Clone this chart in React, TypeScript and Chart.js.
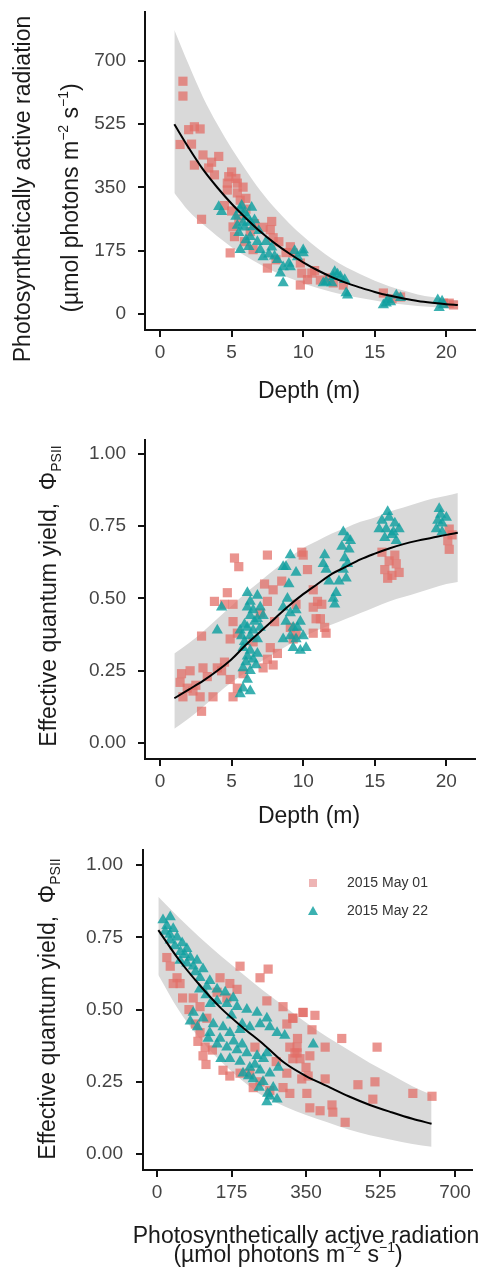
import React, { useEffect, useRef } from "react";
import { Chart, registerables } from "chart.js";

Chart.register(...registerables);

const FONT = '"Liberation Sans", Arial, Helvetica, sans-serif';
const RED = "rgba(226,110,104,0.74)";
const TEAL = "rgba(16,160,160,0.82)";
const BAND = "#d9d9d9";
const LEGEND_LABELS = ["2015 May 01", "2015 May 22"];

// ---------- Panel 1: PAR vs depth ----------
const p1FitDepth = [1, 2, 3, 4, 5, 6, 7, 8, 9, 10, 11, 12, 13, 14, 15, 16, 17, 18, 19, 20, 20.8];
const p1Fit = [525, 460, 400, 350, 305, 265, 228, 196, 168, 143, 121, 102, 86, 73, 61, 51, 43, 36, 31, 27, 25];
const p1Upper = [786, 690, 600, 525, 458, 398, 342, 294, 252, 215, 182, 153, 129, 110, 92, 77, 65, 54, 47, 41, 38];
const p1Lower = [335, 285, 248, 215, 185, 160, 137, 117, 100, 85, 72, 61, 52, 44, 37, 31, 26, 22, 19, 16, 15];
const p1RedDepth = [
  1.6, 1.6, 2.0, 2.4, 2.8, 1.4, 3.0, 4.1, 2.4, 3.4,
  3.8, 5.0, 4.7, 5.4, 5.8, 5.4, 5.6, 4.7, 2.9, 5.1,
  5.2, 4.9, 7.8, 7.7, 7.9, 6.5, 7.5, 9.1, 9.3, 9.8,
  9.9, 9.8, 10.6, 11.2, 12.1, 15.6, 16.8, 19.8, 20.5,
  4.5, 6.0, 5.0, 6.3, 8.1, 10.3, 12.8, 16.2, 20.2, 5.9,
  4.8, 5.3, 3.6, 2.2, 6.0, 6.6, 7.2, 8.3, 8.8, 10.8, 11.8, 5.5,
];
const p1RedPar = [
  644, 603, 510, 518, 512, 469, 440, 436, 412, 404,
  385, 393, 362, 362, 351, 335, 315, 343, 262, 241,
  214, 169, 256, 233, 211, 178, 127, 186, 169, 80,
  113, 141, 113, 94, 86, 58, 47, 30, 25,
  300, 320, 285, 228, 150, 95, 80, 42, 30, 200,
  380, 375, 420, 470, 290, 250, 240, 200, 170, 120, 100, 265,
];
const p1TealDepth = [
  4.3, 4.1, 5.6, 6.1, 6.3, 6.5, 5.8, 5.5, 6.3, 6.0,
  5.6, 6.2, 7.0, 7.2, 8.2, 8.6, 8.4, 8.6, 9.1, 9.6,
  10.0, 10.0, 12.2, 12.6, 12.0, 13.1, 11.6, 16.5, 15.6, 16.1,
  19.4, 19.5, 19.8, 13.0, 11.4, 12.1, 6.8, 7.6, 5.9, 15.9,
  5.3, 5.9, 6.6, 6.9, 5.4, 7.4, 7.8, 8.0, 9.0, 9.4,
  12.4, 12.9, 16.8, 19.7, 15.8, 6.4, 5.7,
];
const p1TealPar = [
  283, 297, 289, 269, 253, 241, 253, 225, 214, 205,
  178, 186, 178, 158, 150, 130, 113, 86, 130, 158,
  169, 177, 117, 103, 86, 52, 89, 52, 25, 33,
  39, 17, 25, 58, 86, 103, 200, 165, 240, 40,
  270, 280, 260, 230, 245, 200, 185, 160, 140, 175,
  110, 95, 45, 35, 30, 295, 300,
];
const p1XTicks = [0, 5, 10, 15, 20];
const p1YTicks = [0, 175, 350, 525, 700];

// ---------- Panel 2: yield vs depth ----------
const p2FitDepth = [1, 2, 3, 4, 5, 6, 7, 8, 9, 10, 11, 12, 13, 14, 15, 16, 17, 18, 19, 20, 20.8];
const p2Fit = [0.155, 0.185, 0.215, 0.25, 0.29, 0.34, 0.385, 0.43, 0.475, 0.515, 0.55, 0.585, 0.61, 0.635, 0.655, 0.673, 0.688, 0.7, 0.71, 0.72, 0.727];
const p2Upper = [0.31, 0.345, 0.385, 0.43, 0.475, 0.52, 0.56, 0.6, 0.64, 0.675, 0.7, 0.725, 0.745, 0.765, 0.78, 0.8, 0.815, 0.83, 0.845, 0.855, 0.865];
const p2Lower = [0.05, 0.085, 0.125, 0.17, 0.21, 0.245, 0.28, 0.31, 0.34, 0.367, 0.39, 0.41, 0.43, 0.45, 0.47, 0.49, 0.505, 0.52, 0.535, 0.55, 0.557];
const p2RedDepth = [
  5.2, 5.5, 7.5, 9.9, 4.7, 5.1, 4.5, 3.8, 7.3, 7.9,
  7.5, 8.5, 9.5, 5.1, 5.4, 4.9, 2.9, 7.7, 8.2, 7.5,
  7.9, 7.2, 9.3, 9.5, 9.1, 1.5, 2.1, 1.4, 1.9, 2.3,
  2.8, 3.0, 1.6, 2.9, 3.7, 4.3, 4.9, 5.4, 5.8, 5.1,
  4.5, 10.7, 10.9, 10.7, 10.0, 11.0, 11.2, 10.7, 11.5, 11.6,
  15.5, 16.0, 16.5, 15.7, 16.2, 16.7, 15.9, 20.2, 20.1, 20.2,
  7.0, 8.0, 6.5, 4.0, 3.3, 2.5, 10.3, 16.4, 20.4, 11.3,
];
const p2RedYield = [
  0.64, 0.61, 0.65, 0.66, 0.52, 0.48, 0.48, 0.49, 0.55, 0.53,
  0.49, 0.56, 0.48, 0.42, 0.38, 0.36, 0.37, 0.33, 0.31, 0.29,
  0.27, 0.26, 0.36, 0.38, 0.40, 0.24, 0.25, 0.21, 0.19, 0.18,
  0.16, 0.26, 0.16, 0.11, 0.16, 0.25, 0.22, 0.19, 0.24, 0.16,
  0.28, 0.47, 0.43, 0.38, 0.65, 0.49, 0.43, 0.53, 0.40, 0.38,
  0.66, 0.63, 0.62, 0.60, 0.58, 0.59, 0.57, 0.74, 0.70, 0.67,
  0.45, 0.42, 0.35, 0.26, 0.23, 0.20, 0.60, 0.65, 0.72, 0.48,
];
const p2TealDepth = [
  9.1, 8.8, 9.5, 8.6, 4.3, 4.0, 5.6, 5.7,
  6.1, 6.3, 6.8, 6.1, 6.5, 7.0, 6.3, 6.8, 6.1, 6.5,
  7.0, 6.3, 6.8, 5.8, 6.3, 6.8, 6.1, 6.5, 5.8, 6.3,
  6.1, 5.8, 6.3, 5.6,
  8.6, 9.1, 9.5, 8.8, 9.3, 9.8, 9.1, 9.5, 10.0, 9.3, 9.8, 10.2, 8.6,
  11.5, 11.4, 11.6, 11.8, 12.1, 12.2,
  12.8, 13.1, 12.7, 13.2, 12.9, 13.1, 12.8, 13.0, 12.5,
  15.9, 15.5, 16.4, 15.8, 15.3, 16.7, 16.2, 15.7, 16.5,
  19.5, 19.4, 19.7, 19.3, 19.7, 20.0,
  5.9, 6.6, 7.2, 6.0, 5.9, 6.7, 9.0, 8.9, 9.6, 13.3, 16.0, 19.6, 16.3, 12.3,
];
const p2TealYield = [
  0.65, 0.61, 0.59, 0.61, 0.47, 0.39, 0.39, 0.37,
  0.52, 0.49, 0.51, 0.47, 0.46, 0.47, 0.44, 0.43, 0.40, 0.39,
  0.40, 0.37, 0.36, 0.33, 0.32, 0.31, 0.30, 0.29, 0.26, 0.25,
  0.22, 0.19, 0.18, 0.17,
  0.47, 0.45, 0.46, 0.42, 0.40, 0.42, 0.37, 0.36, 0.37, 0.33, 0.32, 0.33, 0.36,
  0.65, 0.62, 0.60, 0.56, 0.50, 0.48,
  0.73, 0.71, 0.68, 0.67, 0.64, 0.62, 0.60, 0.57, 0.56,
  0.80, 0.77, 0.76, 0.74, 0.74, 0.74, 0.72, 0.71, 0.70,
  0.81, 0.77, 0.76, 0.74, 0.73, 0.78,
  0.35, 0.42, 0.44, 0.28, 0.41, 0.27, 0.55, 0.50, 0.40, 0.70, 0.78, 0.79, 0.73, 0.52,
];
const p2XTicks = [0, 5, 10, 15, 20];
const yieldTicks = [0, 0.25, 0.5, 0.75, 1.0];

// ---------- Panel 3: yield vs PAR ----------
const p3FitPar = [3, 50, 100, 150, 200, 250, 300, 350, 400, 450, 500, 550, 600, 645];
const p3Fit = [0.775, 0.675, 0.585, 0.505, 0.44, 0.38, 0.315, 0.27, 0.235, 0.2, 0.17, 0.145, 0.122, 0.105];
const p3Upper = [0.89, 0.82, 0.75, 0.685, 0.625, 0.565, 0.51, 0.455, 0.405, 0.36, 0.315, 0.275, 0.235, 0.205];
const p3Lower = [0.62, 0.5, 0.4, 0.32, 0.255, 0.2, 0.165, 0.135, 0.11, 0.085, 0.065, 0.05, 0.035, 0.025];
const p3TealPar = [
  14, 31, 23, 38, 19, 47, 31, 59, 42, 70,
  78, 94, 85, 108, 101, 124, 117, 141, 70, 54,
  141, 164, 188, 211, 235, 258, 179,
  85, 78, 108, 132, 155, 124, 148, 171, 195, 218, 242, 265, 282,
  141, 164, 188, 211, 235, 258, 171, 195, 218, 242, 265, 202, 226, 249, 273, 265, 282, 258,
  367,
  30, 55, 65, 90, 100, 115, 125, 160, 175, 200, 150, 180, 230, 250, 285, 260, 240, 120, 95, 200, 215, 300,
];
const p3TealYield = [
  0.81, 0.82, 0.79, 0.78, 0.77, 0.75, 0.74, 0.73, 0.72, 0.71,
  0.68, 0.67, 0.65, 0.64, 0.61, 0.60, 0.58, 0.57, 0.66, 0.67,
  0.53, 0.52, 0.51, 0.50, 0.49, 0.47, 0.54,
  0.49, 0.46, 0.47, 0.45, 0.44, 0.42, 0.40, 0.42, 0.43, 0.44, 0.45, 0.44, 0.42,
  0.38, 0.37, 0.36, 0.35, 0.34, 0.35, 0.33, 0.32, 0.30, 0.29, 0.28, 0.28, 0.26, 0.25, 0.23, 0.20, 0.19, 0.18,
  0.38,
  0.76, 0.70, 0.69, 0.63, 0.57, 0.55, 0.52, 0.56, 0.48, 0.45, 0.33, 0.39, 0.31, 0.33, 0.30, 0.21, 0.23, 0.40, 0.44, 0.38, 0.27, 0.41,
];
const p3RedPar = [
  23, 47, 54, 38, 31,
  195, 242, 261,
  148, 171, 188, 164, 141,
  85, 101, 117,
  258, 296, 319, 343, 305,
  96, 113, 108, 101,
  155, 171, 195,
  218, 242, 226,
  312, 329, 319,
  296, 312,
  343, 371, 319, 364, 434, 517, 395,
  329, 324, 359, 336,
  355, 395, 352, 472, 512, 507, 601, 646,
  359, 383, 411, 413, 442,
  60, 75, 130, 115, 90, 230, 280, 330, 350, 340, 265, 305,
];
const p3RedYield = [
  0.68, 0.61, 0.59, 0.59, 0.65,
  0.65, 0.61, 0.64,
  0.61, 0.59, 0.57, 0.54, 0.56,
  0.54, 0.51, 0.47,
  0.53, 0.51, 0.47, 0.49, 0.45,
  0.39, 0.37, 0.34, 0.42,
  0.29, 0.27, 0.28,
  0.28, 0.25, 0.23,
  0.37, 0.35, 0.33,
  0.23, 0.21,
  0.49, 0.48, 0.47, 0.43, 0.40, 0.37, 0.37,
  0.37, 0.35, 0.34, 0.33,
  0.27, 0.26, 0.21, 0.24, 0.25, 0.19, 0.21, 0.20,
  0.16, 0.15, 0.17, 0.145, 0.11,
  0.54, 0.50, 0.36, 0.31, 0.45, 0.37, 0.32, 0.40, 0.30, 0.26, 0.22, 0.28,
];
const p3XTicks = [0, 175, 350, 525, 700];

// ---------- helpers ----------
const zip = (xs: number[], ys: number[]) => xs.map((x, i) => ({ x, y: ys[i] }));

type Seg = { t: string; size: number; dy?: number };

function drawRich(ctx: CanvasRenderingContext2D, segs: Seg[], cx: number, cy: number, rotate: boolean, color: string) {
  ctx.save();
  ctx.translate(cx, cy);
  if (rotate) ctx.rotate(-Math.PI / 2);
  ctx.fillStyle = color;
  ctx.textBaseline = "alphabetic";
  ctx.textAlign = "left";
  const main = Math.max(...segs.map((s) => s.size));
  const widths = segs.map((s) => {
    ctx.font = `${s.size}px ${FONT}`;
    return ctx.measureText(s.t).width;
  });
  const total = widths.reduce((a, b) => a + b, 0);
  let x = -total / 2;
  segs.forEach((s, i) => {
    ctx.font = `${s.size}px ${FONT}`;
    ctx.fillText(s.t, x, main * 0.35 + (s.dy || 0));
    x += widths[i];
  });
  ctx.restore();
}

function axis(min: number, max: number, ticks: number[], fmt: (v: number) => string, isX: boolean, size: number, pad: number) {
  return {
    type: "linear",
    min,
    max,
    afterBuildTicks: (s: any) => {
      s.ticks = ticks.map((v) => ({ value: v }));
    },
    afterFit: (s: any) => {
      if (isX) {
        s.height = size;
        s.paddingLeft = 0;
        s.paddingRight = 0;
      } else {
        s.width = size;
        s.paddingTop = 0;
        s.paddingBottom = 0;
      }
    },
    grid: { display: true, drawOnChartArea: false, drawTicks: true, tickLength: 7, color: "#111", lineWidth: 2 },
    border: { display: true, color: "#111", width: 2 },
    ticks: {
      color: "#444",
      font: { family: FONT, size: 19 },
      padding: pad,
      autoSkip: false,
      maxRotation: 0,
      callback: (v: any) => fmt(Number(v)),
    },
  };
}

function datasets(fx: number[], fit: number[], up: number[], lo: number[], rx: number[], ry: number[], tx: number[], ty: number[]) {
  return [
    { label: "fit", data: zip(fx, fit), borderColor: "#000", borderWidth: 2, pointRadius: 0, showLine: true, fill: false, cubicInterpolationMode: "monotone", order: 0 },
    { label: LEGEND_LABELS[1], data: zip(tx, ty), showLine: false, pointStyle: "triangle", pointRadius: 6.5, backgroundColor: TEAL, pointBackgroundColor: TEAL, pointBorderWidth: 0, borderWidth: 0, order: 1 },
    { label: LEGEND_LABELS[0], data: zip(rx, ry), showLine: false, pointStyle: "rect", pointRadius: 6.5, backgroundColor: RED, pointBackgroundColor: RED, pointBorderWidth: 0, borderWidth: 0, order: 2 },
    { label: "upper", data: zip(fx, up), borderWidth: 0, borderColor: "rgba(0,0,0,0)", pointRadius: 0, showLine: true, fill: "+1", backgroundColor: BAND, cubicInterpolationMode: "monotone", order: 3 },
    { label: "lower", data: zip(fx, lo), borderWidth: 0, borderColor: "rgba(0,0,0,0)", pointRadius: 0, showLine: true, fill: false, cubicInterpolationMode: "monotone", order: 4 },
  ];
}

function baseOptions(top: number, right: number, x: any, y: any) {
  return {
    responsive: false,
    maintainAspectRatio: false,
    animation: false,
    devicePixelRatio: 1,
    events: [],
    layout: { padding: { top, right, left: 0, bottom: 0 } },
    plugins: { legend: { display: false }, tooltip: { enabled: false } },
    scales: { x, y },
  };
}

const fmtInt = (v: number) => String(v);
const fmt2 = (v: number) => v.toFixed(2);

const parUnitSegs: Seg[] = [
  { t: "(µmol photons m", size: 23 },
  { t: "−2", size: 14, dy: -10 },
  { t: " s", size: 23 },
  { t: "−1", size: 14, dy: -10 },
  { t: ")", size: 23 },
];

function config1() {
  return {
    type: "line",
    data: { datasets: datasets(p1FitDepth, p1Fit, p1Upper, p1Lower, p1RedDepth, p1RedPar, p1TealDepth, p1TealPar) },
    options: baseOptions(12, 8, axis(-1.05, 22.0, p1XTicks, fmtInt, true, 90, 4), axis(-44.3, 835.6, p1YTicks, fmtInt, false, 145, 12)),
    plugins: [
      {
        id: "titles1",
        afterDraw(chart: any) {
          const ctx = chart.ctx;
          drawRich(ctx, [{ t: "Photosynthetically active radiation", size: 23 }], 22, 189, true, "#1a1a1a");
          drawRich(ctx, parUnitSegs, 70, 198, true, "#1a1a1a");
          drawRich(ctx, [{ t: "Depth (m)", size: 23 }], 309, 390, false, "#1a1a1a");
        },
      },
    ],
  };
}

function config2() {
  return {
    type: "line",
    data: { datasets: datasets(p2FitDepth, p2Fit, p2Upper, p2Lower, p2RedDepth, p2RedYield, p2TealDepth, p2TealYield) },
    options: baseOptions(20, 8, axis(-1.05, 22.0, p2XTicks, fmtInt, true, 81, 4), axis(-0.055, 1.048, yieldTicks, fmt2, false, 145, 12)),
    plugins: [
      {
        id: "titles2",
        afterDraw(chart: any) {
          const ctx = chart.ctx;
          drawRich(ctx, [{ t: "Effective quantum yield,  Φ", size: 23 }, { t: "PSII", size: 14, dy: 5 }], 48, 176, true, "#1a1a1a");
          drawRich(ctx, [{ t: "Depth (m)", size: 23 }], 309, 395, false, "#1a1a1a");
        },
      },
    ],
  };
}

function config3() {
  return {
    type: "line",
    data: { datasets: datasets(p3FitPar, p3Fit, p3Upper, p3Lower, p3RedPar, p3RedYield, p3TealPar, p3TealYield) },
    options: baseOptions(10, 11, axis(-33, 740, p3XTicks, fmtInt, true, 107, 4), axis(-0.055, 1.052, yieldTicks, fmt2, false, 143, 13)),
    plugins: [
      {
        id: "titles3",
        afterDraw(chart: any) {
          const ctx = chart.ctx;
          drawRich(ctx, [{ t: "Effective quantum yield,  Φ", size: 23 }, { t: "PSII", size: 14, dy: 5 }], 47, 169, true, "#1a1a1a");
          drawRich(ctx, [{ t: "Photosynthetically active radiation", size: 23 }], 306, 395, false, "#1a1a1a");
          drawRich(ctx, parUnitSegs, 288, 414, false, "#1a1a1a");
          // legend
          ctx.save();
          ctx.fillStyle = "rgba(226,130,130,0.6)";
          ctx.fillRect(309, 39, 8, 8);
          ctx.fillStyle = TEAL;
          ctx.beginPath();
          ctx.moveTo(313, 66);
          ctx.lineTo(318, 75);
          ctx.lineTo(308, 75);
          ctx.closePath();
          ctx.fill();
          ctx.fillStyle = "#333";
          ctx.font = `14px ${FONT}`;
          ctx.textBaseline = "middle";
          ctx.textAlign = "left";
          ctx.fillText(LEGEND_LABELS[0], 347, 43);
          ctx.fillText(LEGEND_LABELS[1], 347, 71);
          ctx.restore();
        },
      },
    ],
  };
}

function Panel({ make, top, height }: { make: () => any; top: number; height: number }) {
  const ref = useRef<HTMLCanvasElement>(null);
  useEffect(() => {
    const chart = new Chart(ref.current as HTMLCanvasElement, make());
    return () => chart.destroy();
  }, []);
  return (
    <canvas
      ref={ref}
      width={483}
      height={height}
      style={{ position: "absolute", left: 0, top, width: 483, height, display: "block" }}
    />
  );
}

export default function App() {
  return (
    <div style={{ position: "absolute", left: 0, top: 0, width: 483, height: 1277, background: "#fff", overflow: "hidden" }}>
      <Panel make={config1} top={0} height={420} />
      <Panel make={config2} top={420} height={420} />
      <Panel make={config3} top={840} height={437} />
    </div>
  );
}
